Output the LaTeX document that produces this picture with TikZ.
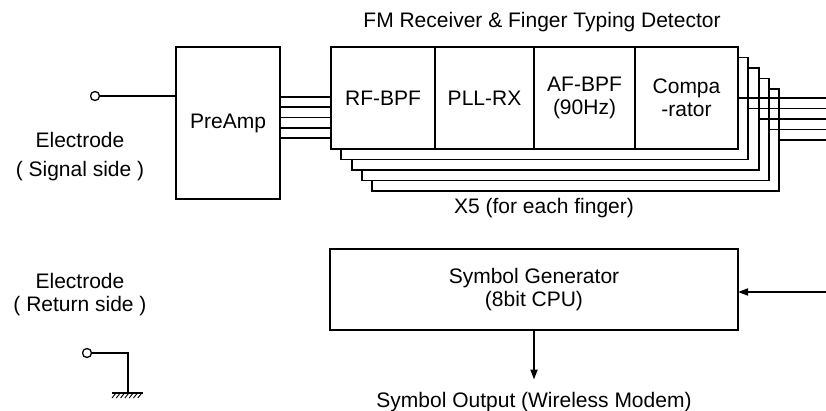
\documentclass[tikz,border=0pt]{standalone}
\usepackage{fontspec}
\setmainfont{Liberation Sans}
\usetikzlibrary{arrows.meta, positioning}

\begin{document}
\begin{tikzpicture}[x=1pt, y=-1pt, line width=1.8pt,
        every node/.style={font=\fontsize{21}{23}\selectfont},
        blk/.style={draw, fill=white, align=center, inner sep=0pt, outer sep=0pt},
        term/.style={circle, draw, fill=white, inner sep=0pt, minimum size=9pt, line width=1.3pt},
        arr/.style={-{Triangle[length=10pt, width=7pt]}}]
        \useasboundingbox (0,0) rectangle (826,410);

        % stacked copies of the detector, one per finger
        \foreach \k in {4,3,2,1} {
            \node[blk, minimum width=407pt, minimum height=102pt] (sh\k) at (534.5+10.3*\k, 98+10.5*\k) {};
        }

        % detector stages
        \node[blk, minimum width=104pt, minimum height=102pt] (rf) at (383,98) {RF-BPF};
        \node[blk, minimum width=99pt, minimum height=102pt, right=0pt of rf] (pll) {PLL-RX};
        \node[blk, minimum width=101pt, minimum height=102pt, right=0pt of pll] (af) {AF-BPF\\(90Hz)};
        \node[blk, minimum width=103pt, minimum height=102pt, right=0pt of af] (comp) {Compa\\-rator};
        \node (title) at (542,22) {FM Receiver \& Finger Typing Detector};
        \node (x5) at (544,208) {X5 (for each finger)};

        % outputs to the right
        \coordinate (rim) at (826,0);
        \draw (comp.east) -- (comp.east -| rim);
        \foreach \k in {1,...,4} {
            \draw (sh\k.east) -- (sh\k.east -| rim);
        }

        % preamp and signal electrode
        \node[blk, minimum width=104pt, minimum height=152pt] (preamp) at (228,123) {PreAmp};
        \foreach \i in {0,...,4} {
            \coordinate (in\i) at (331, 97+10.2*\i);
            \draw (preamp.east |- in\i) -- (in\i);
        }
        \node[term] (sigterm) at (95,96) {};
        \draw (sigterm) -- (sigterm -| preamp.west);
        \node[align=center] (siglbl) at (80,157) {Electrode\\[6pt]( Signal side )};

        % return electrode to ground
        \node[align=center] (retlbl) at (80,294.5) {Electrode\\( Return side )};
        \node[term] (retterm) at (87,353) {};
        \coordinate (gnd) at (128,393);
        \draw (retterm) -- (retterm -| gnd) -- (gnd);
        \draw[line width=1.3pt] (112,393) -- (143,393);
        \foreach \h in {0,...,6} {
            \draw[line width=0.9pt] (112+4.3*\h,398) -- ++(4,-5);
        }

        % symbol generator
        \node[blk, minimum width=408pt, minimum height=81pt] (cpu) at (534,289.5) {Symbol Generator\\(8bit CPU)};
        \node[anchor=base] (symout) at (534,407) {Symbol Output (Wireless Modem)};
        \draw[arr, shorten >=8pt] (cpu) -- (symout);
        \coordinate (cpuin) at (826,292);
        \draw[arr] (cpuin) -- (cpu.east |- cpuin);
    \end{tikzpicture}
\end{document}
